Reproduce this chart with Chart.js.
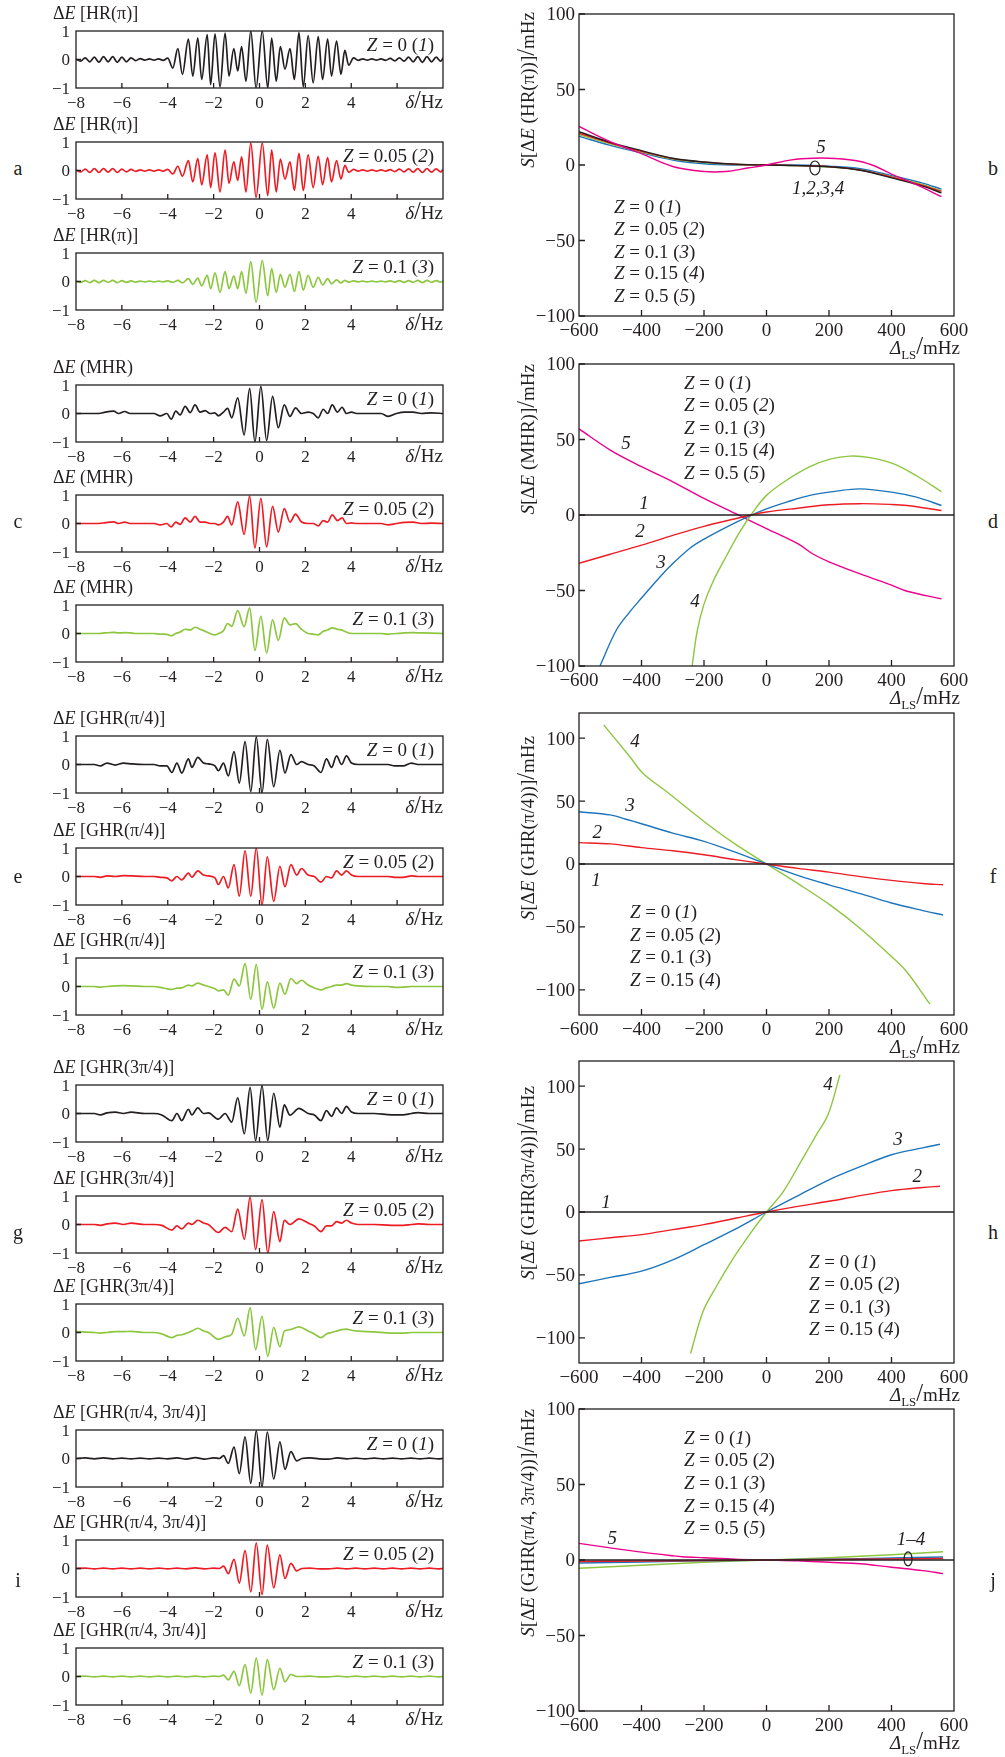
<!DOCTYPE html>
<html>
<head>
<meta charset="utf-8">
<script src="https://cdn.jsdelivr.net/npm/chart.js@4.4.1/dist/chart.umd.min.js"></script>
<style>
  body { margin: 0; background: #fff; width: 1005px; height: 1757px; position: relative; overflow: hidden; }
  canvas { position: absolute; }
  .tag { position: absolute; font: 20px "Liberation Serif", serif; color: #231f20; transform: translate(-50%, -50%); }
</style>
</head>
<body>
<script>
/* ---------- left column: dE(delta), three Z values per group ---------- */
const hrDelta = [-8,-7.8,-7.6,-7.4,-7.2,-7,-6.8,-6.6,-6.4,-6.2,-6,-5.8,-5.6,-5.4,-5.2,-5,-4.8,-4.6,-4.4,-4.2,-4,-3.78,
  -3.56,-3.36,-3.1,-2.91,-2.69,-2.52,-2.28,-2.13,-1.94,-1.72,-1.5,-1.33,-1.12,-0.95,-0.78,-0.59,-0.38,-0.15,0.12,0.36,
  0.53,0.73,0.91,1.11,1.33,1.52,1.72,1.91,2.12,2.34,2.56,2.75,2.97,3.14,3.36,3.55,3.72,3.89,
  4.1,4.3,4.5,4.7,4.9,5.1,5.3,5.5,5.7,5.9,6.1,6.3,6.5,6.7,6.9,7.1,7.3,7.5,7.7,7.9,8];
const hrZ0 = [0.02,-0.06,0.06,-0.08,0.08,-0.1,0.1,-0.08,0.1,-0.1,0.08,-0.08,0.06,-0.04,0.03,-0.02,0.02,-0.02,0.02,-0.03,0.05,-0.3,
  0.38,-0.52,0.72,-0.58,0.75,-0.7,0.87,-0.88,0.9,-0.96,0.93,-0.58,0.38,-0.4,0.45,-0.76,1,-1,1,-1,
  0.75,-0.76,0.45,-0.34,0.38,-0.7,0.95,-0.96,0.84,-0.82,0.8,-0.7,0.72,-0.58,0.65,-0.52,0.32,-0.2,
  0.06,-0.03,0.02,-0.02,0.02,-0.02,0.02,-0.03,0.04,-0.05,0.06,-0.06,0.08,-0.08,0.1,-0.1,0.1,-0.08,0.08,-0.06,0.05];
const hrZ005 = [0.02,-0.05,0.05,-0.07,0.07,-0.07,0.07,-0.06,0.07,-0.07,0.05,-0.05,0.04,-0.03,0.02,-0.02,0.02,-0.02,0.02,-0.02,0.04,-0.12,
  0.15,-0.2,0.35,-0.4,0.42,-0.5,0.55,-0.6,0.62,-0.75,0.72,-0.45,0.3,-0.35,0.48,-0.75,0.97,-0.94,0.97,-0.88,
  0.72,-0.75,0.4,-0.3,0.3,-0.7,0.6,-0.7,0.55,-0.6,0.5,-0.5,0.45,-0.4,0.35,-0.3,0.18,-0.06,
  0.04,-0.02,0.02,-0.02,0.02,-0.02,0.02,-0.02,0.03,-0.04,0.05,-0.05,0.06,-0.06,0.07,-0.07,0.07,-0.06,0.06,-0.05,0.04];
const hrZ01 = [0.01,-0.03,0.03,-0.04,0.04,-0.04,0.04,-0.03,0.04,-0.04,0.03,-0.03,0.02,-0.02,0.01,-0.01,0.01,-0.01,0.01,-0.01,0.02,-0.03,
  0.04,-0.05,0.1,-0.1,0.12,-0.15,0.22,-0.25,0.3,-0.38,0.35,-0.25,0.2,-0.25,0.35,-0.42,0.7,-0.73,0.73,-0.5,
  0.45,-0.38,0.25,-0.2,0.25,-0.35,0.35,-0.3,0.22,-0.2,0.15,-0.12,0.1,-0.08,0.06,-0.05,0.04,-0.02,
  0.02,-0.01,0.01,-0.01,0.01,-0.01,0.01,-0.01,0.02,-0.02,0.03,-0.03,0.03,-0.03,0.04,-0.04,0.04,-0.03,0.03,-0.02,0.02];

const mhrDelta = [-8,-7,-6.72,-6.36,-6.14,-5.88,-5.64,-5.42,-4.6,-4.33,-4.04,-3.85,-3.65,-3.46,-3.24,-3.02,
  -2.81,-2.59,-2.37,-2.15,-1.95,-1.79,-1.57,-1.39,-1.21,-0.95,-0.67,-0.43,-0.2,0.06,0.31,0.57,
  0.82,1.08,1.33,1.57,1.83,2.12,2.34,2.56,2.78,2.97,3.17,3.4,3.6,3.79,4.01,4.23,4.6,5.3,5.61,5.97,6.33,6.69,7.06,7.5,8];
const mhrZ0 = [0,0,0.05,0.08,0,0.07,0,0, 0,-0.08,0,-0.2,0.08,-0.05,0.25,0.03,
  0.3,0.05,0.1,0,0.02,-0.08,0.05,0.18, -0.15,0.55,-0.75,0.88,-1,0.95,-0.95,0.6,
  -0.5,0.3,-0.1,0.2,0,0.05,0,-0.15, 0.15,0,0.3,0.05,0.22,0,0.05,0, 0,0,-0.1,0,0.05,0.05,0,0.02,0];
const mhrZ005 = [0,0,0.03,0.06,0,0.05,0,0, 0,-0.05,0,-0.12,0.05,-0.03,0.2,0.05,
  0.25,0.05,0.05,0,0,-0.05,0.05,0.25, -0.05,0.76,-0.38,0.96,-0.86,0.88,-0.82,0.6,
  -0.3,0.52,0.05,0.33,0.05,0,0,-0.08, 0.1,0.05,0.3,0.1,0.2,0,0.02,0, 0,0,-0.05,0,0.04,0.05,0,0.01,0];
const mhrZ01 = [0,0,0.02,0.04,0.02,0.03,0.02,0, 0,-0.02,-0.03,-0.08,0,0.05,0.15,0.12,
  0.22,0.15,0.08,0,-0.05,0,0.1,0.35, 0.25,0.8,0.24,0.9,-0.6,0.6,-0.68,0.48,
  -0.24,0.55,0.3,0.35,0.15,0,-0.02,-0.05, 0.08,0.12,0.2,0.15,0.12,0.05,0,0, 0,0,-0.02,0,0.02,0.03,0.02,0.01,0];

const q1Delta = [-8,-7.2,-6.94,-6.65,-6.29,-5.93,-5.56,-5,-4.6,-4.33,-4.04,-3.82,-3.6,-3.39,-3.1,-2.95,
  -2.69,-2.44,-2.23,-1.94,-1.79,-1.57,-1.36,-1.11,-0.88,-0.63,-0.38,-0.14,0.11,0.34,0.62,0.89,
  1.11,1.37,1.62,1.83,2.12,2.39,2.68,2.92,3.14,3.36,3.58,3.79,4.01,4.3,5,5.6,5.9,6.26,6.62,6.91,7.4,8];
const q1Z0 = [0,0,-0.05,0.05,-0.02,0.05,0.02,0, 0,-0.05,-0.05,-0.28,0.05,-0.3,0.2,-0.1,
  0.25,0.05,0.02,-0.05,-0.22,0.05,-0.4,0.45, -0.65,0.8,-0.95,0.97,-1,0.88,-0.78,0.5,
  -0.3,0.35,0,0.1,0,-0.05,-0.28,0.2, -0.1,0.3,0,0.3,0.05,0,0,0, -0.05,-0.05,0.05,0,0,0];
const q1Z005 = [0,0,-0.03,0.02,0,0.03,0.02,0, 0,-0.03,-0.05,-0.15,0,-0.12,0.12,-0.02,
  0.2,0.05,0.02,-0.05,-0.28,0,-0.4,0.42, -0.69,0.9,-0.69,1,-1,0.69,-0.87,0.36,
  -0.36,0.42,0.05,0.28,0.05,0,-0.2,0, -0.05,0.2,0.05,0.2,0.05,0,0,0, -0.03,-0.03,0.02,0,0,0];
const q1Z01 = [0,0,-0.02,0,0.02,0.03,0.02,0, 0,-0.03,-0.08,-0.1,-0.06,-0.05,0.05,0.02,
  0.12,0.05,0,-0.08,-0.15,-0.12,-0.3,0.26, 0.02,0.8,-0.45,0.77,-0.8,0.16,-0.76,0.12,
  -0.27,0.28,0.1,0.22,0.05,-0.05,-0.12,-0.05, 0,0.05,0.05,0.1,0.05,0.02,0,0, -0.03,-0.02,0,0,0,0];

const q3Delta = [-8,-7.2,-6.94,-6.65,-6.29,-5.93,-5.6,-5,-4.6,-4.26,-3.82,-3.6,-3.39,-3.1,-2.95,-2.69,
  -2.44,-2.23,-1.79,-1.5,-1.21,-0.95,-0.66,-0.41,-0.17,0.11,0.36,0.62,0.89,1.08,1.33,1.72,
  2.12,2.39,2.68,2.92,3.14,3.36,3.58,3.79,4.01,4.3,5,5.75,6.26,6.62,6.91,7.4,8];
const q3Z0 = [0,0,-0.05,0.02,0.05,0,0.05,0, 0,-0.05,-0.25,0,-0.25,0.15,-0.05,0.2,
  0,0.02,-0.2,0,-0.3,0.55,-0.71,0.92, -0.95,0.98,-0.95,0.71,-0.48,0.3,-0.06,0.18,
  0,-0.05,-0.25,0.1,-0.1,0.2,0,0.25, 0.05,0,0,-0.05,-0.05,0,0.03,0,0];
const q3Z005 = [0,0,-0.03,0.02,0.05,0,0.05,0, 0,-0.03,-0.2,-0.05,-0.15,0.05,0,0.15,
  0.05,0,-0.28,-0.1,-0.25,0.54,-0.52,0.96, -0.88,0.87,-1,0.45,-0.6,0.15,0,0.2,
  0.05,-0.05,-0.25,-0.05,-0.05,0.1,0.05,0.15, 0.05,0,0,-0.03,-0.03,0,0.02,0,0];
const q3Z01 = [0.03,0,-0.02,0,0.03,0.03,0.04,0, 0,-0.05,-0.18,-0.1,-0.08,0,0.05,0.15,
  0.05,0,-0.24,-0.15,-0.06,0.5,-0.12,0.87, -0.6,0.57,-0.84,0.18,-0.5,0.05,0.1,0.2,
  0.05,-0.05,-0.18,-0.05,0,0.05,0.1,0.12, 0.08,0.05,0.02,-0.02,-0.02,0,0,0,0];

const q13Delta = [-8,-7.6,-7.2,-6.8,-6.4,-6,-5.6,-5.2,-4.8,-4.4,-4,-3.6,-3.2,-2.8,-2.4,-2,
  -1.75,-1.57,-1.36,-1.11,-0.88,-0.63,-0.38,-0.14,0.11,0.34,0.62,0.89,1.11,1.37,1.62,1.85,
  2.2,2.6,3,3.4,3.8,4.2,4.6,5,5.4,5.8,6.2,6.6,7,7.4,7.8,8];
const q13Z0 = [0,0.02,-0.01,0.02,-0.01,0.01,-0.01,0.01,-0.01,0.01,-0.01,0.02,-0.02,0.03,-0.02,0.02,
  0,0.1,-0.17,0.4,-0.53,0.76,-0.87,0.98,-1,0.93,-0.72,0.58,-0.38,0.24,-0.08,0,
  0.02,-0.01,-0.02,0.02,-0.01,0.01,-0.01,0.01,-0.01,0.01,-0.01,0.01,-0.01,0.01,-0.01,0];
const q13Z005 = [0,0.01,-0.01,0.01,-0.01,0.01,-0.01,0.01,-0.01,0.01,-0.01,0.01,-0.01,0.02,-0.01,0.01,
  0,0.08,-0.18,0.32,-0.51,0.63,-0.82,0.9,-0.92,0.82,-0.68,0.48,-0.35,0.18,-0.08,0,
  0.01,-0.01,-0.01,0.01,-0.01,0.01,-0.01,0.01,-0.01,0.01,-0.01,0.01,-0.01,0.01,-0.01,0];
const q13Z01 = [0,0.01,-0.01,0.01,-0.01,0.01,-0.01,0.01,-0.01,0.01,-0.01,0.01,-0.01,0.01,-0.01,0.01,
  0,0.05,-0.12,0.18,-0.32,0.42,-0.58,0.65,-0.65,0.59,-0.46,0.29,-0.18,0.07,0,0,
  0.01,-0.01,-0.01,0.01,-0.01,0.01,-0.01,0.01,-0.01,0.01,-0.01,0.01,-0.01,0.01,-0.01,0];

/* ---------- right column: S[dE] vs Delta_LS ---------- */
const lsFull = [-600, 600];
const zeroLine = [0, 0];

const bLS = [-600,-500,-400,-300,-200,-100,0,100,200,300,400,500,560];
const bZ0 = [22,15,9.5,4.5,2,0.6,0,-0.4,-1.2,-3.5,-8.5,-14,-18.5];
const bZ005 = [21,14.5,9,4.2,1.9,0.5,0,-0.4,-1.1,-3.3,-8,-13.5,-17.5];
const bZ01 = [19,13,8,3.3,0.8,0,0,0,-0.8,-2.5,-7,-12,-16];
const bZ015 = [20,14,8.6,4,1.7,0.5,0,-0.5,-1.3,-3.3,-7.8,-13,-17];
const bLS5 = [-600,-500,-400,-300,-200,-130,-60,0,80,150,220,300,350,400,480,560];
const bZ05 = [25.5,15.5,7.5,-1,-4.3,-4.3,-2,0,3.4,4.5,4.3,2.3,-1,-6,-13,-21];

const dLS2 = [-600,-500,-400,-300,-200,-100,-50,0,100,200,300,400,450,560];
const dZ005 = [-32,-26,-20,-13.5,-7.5,-2.5,0,2,4.5,6.8,7.5,7,6.3,3];
const dLS3 = [-533,-480,-437,-400,-341,-299,-245,-200,-128,-64,0,64,139,224,299,405,480,560];
const dZ01 = [-100,-76,-64,-55,-41,-32,-22,-16,-8,-1.5,4,8.5,13,15.8,17.3,15,11.8,6.3];
const dLS4 = [-238,-222,-200,-171,-128,-85,-43,0,64,139,203,267,331,405,480,560];
const dZ015 = [-100,-77,-59,-44,-27,-11,2,13,23,32,37,39,38,34,26,15.5];
const dLS5 = [-600,-500,-400,-300,-200,-100,0,100,150,200,300,400,450,560];
const dZ05 = [57,43,32,22,11,1,-9,-19,-26,-31,-39,-46.5,-50.5,-55.5];

const fLS2 = [-600,-500,-400,-300,-200,-100,0,100,200,300,400,500,565];
const fZ005 = [17,16,13,10.5,7.3,3.5,0,-3.5,-6.5,-10,-13,-15.5,-16.5];
const fLS3 = [-600,-500,-450,-400,-300,-200,-100,0,100,200,300,400,500,565];
const fZ01 = [41.5,39,35.6,32,24.5,18,9.4,0,-9,-16.6,-23.5,-31,-37,-40.5];
const fLS4 = [-521,-438,-395,-320,-200,-107,0,107,203,299,400,448,523];
const fZ015 = [110.6,85.4,72,57.6,33.8,17,0,-16.6,-32.5,-51,-73.5,-85.4,-111.4];

const hLS23 = [-600,-500,-400,-300,-200,-100,0,100,200,300,400,500,555];
const hZ005 = [-23,-20.5,-18,-14,-10,-5,0,4.5,8.5,13,17,19.5,20.5];
const hZ01 = [-57,-52,-47,-38,-26,-13.7,0,12.9,25.6,36,45.5,51,53.8];
const hLS4 = [-243,-203,-160,-107,-43,0,53,117,160,197,235];
const hZ015 = [-112.5,-79,-59,-37,-14,0,16,43,61.5,77.4,109];

const jLS = [-600,-400,-200,0,200,400,565];
const jZ005 = [-1,-0.7,-0.3,0,0.3,0.7,1];
const jZ01 = [-2,-1.3,-0.6,0,0.6,1.3,2];
const jZ015 = [-5.5,-3.5,-1.5,0,1.5,3.5,5.5];
const jLS5 = [-600,-500,-400,-300,-270,-200,-100,0,100,200,300,400,500,565];
const jZ05 = [11,8,5.2,2.8,2.2,1.5,0.5,0,-0.5,-1.5,-2.5,-4.8,-7,-9];

/* ticks */
const deltaTicks = [-6,-4,-2,0,2,4,6];
const deltaLabels = [-8,-6,-4,-2,0,2,4];
const dETicks = [0];
const dELabels = [-1,0,1];
const lsTicks = [-400,-200,0,200,400];
const lsLabels = [-600,-400,-200,0,200,400,600];
const sTicks = [-100,-50,0,50,100];

const INK = '#231f20';
const COL = { k: '#231f20', r: '#ed1c24', g: '#8dc63f', b: '#1c75bc', m: '#ec008c' };
const FONT = '"Liberation Serif", "Times New Roman", serif';

function pts(xs, ys) { return xs.map((x, i) => ({ x: x, y: ys[i] })); }
function num(v) { return v < 0 ? '\u2212' + Math.abs(v) : String(v); }

// '*' toggles italic, '~' toggles subscript, '^' toggles big glyph
function runs(str) {
  const out = []; let it = false, sub = false, big = false, cur = '';
  const push = () => { if (cur) out.push({ t: cur, it, sub, big }); cur = ''; };
  for (const ch of str) {
    if (ch === '*') { push(); it = !it; }
    else if (ch === '~') { push(); sub = !sub; }
    else if (ch === '^') { push(); big = !big; }
    else cur += ch;
  }
  push();
  return out;
}
function fontFor(r, size) {
  const s = r.sub ? size * 0.68 : r.big ? size * 1.3 : size;
  return (r.it ? 'italic ' : '') + s.toFixed(1) + 'px ' + FONT;
}
function drawRich(ctx, str, x, y, size, align) {
  const rs = runs(str);
  let w = 0;
  rs.forEach(r => { ctx.font = fontFor(r, size); r.w = ctx.measureText(r.t).width; w += r.w; });
  let cx = align === 'right' ? x - w : align === 'center' ? x - w / 2 : x;
  ctx.textAlign = 'left';
  ctx.textBaseline = 'alphabetic';
  rs.forEach(r => {
    ctx.font = fontFor(r, size);
    ctx.fillText(r.t, cx, y + size * 0.34 + (r.sub ? size * 0.22 : 0));
    cx += r.w;
  });
}

const decor = {
  id: 'decor',
  afterDatasetsDraw(chart) {
    const d = chart.canvas.deco;
    const ctx = chart.ctx, a = chart.chartArea;
    const sx = chart.scales.x, sy = chart.scales.y;
    ctx.save();
    ctx.strokeStyle = INK;
    ctx.fillStyle = INK;
    ctx.lineWidth = 1.3;
    ctx.strokeRect(a.left, a.top, a.right - a.left, a.bottom - a.top);
    ctx.beginPath();
    d.xTicks.forEach(v => { const p = sx.getPixelForValue(v); ctx.moveTo(p, a.bottom); ctx.lineTo(p, a.bottom - d.tick); });
    d.yTicks.forEach(v => { const p = sy.getPixelForValue(v); ctx.moveTo(a.left, p); ctx.lineTo(a.left + d.tick, p); });
    ctx.stroke();
    d.xLabels.forEach(v => drawRich(ctx, num(v), sx.getPixelForValue(v), a.bottom + 14, d.size, 'center'));
    d.yLabels.forEach(v => drawRich(ctx, num(v), a.left - d.gap, sy.getPixelForValue(v), d.size, 'right'));
    (d.ellipses || []).forEach(e => {
      ctx.beginPath();
      ctx.lineWidth = 1.2;
      ctx.ellipse(sx.getPixelForValue(e.x), sy.getPixelForValue(e.y), e.rx, e.ry, 0, 0, Math.PI * 2);
      ctx.stroke();
    });
    d.texts.forEach(t => {
      const px = t.data ? sx.getPixelForValue(t.x) : a.left + t.x;
      const py = t.data ? sy.getPixelForValue(t.y) : a.top + t.y;
      if (t.rot) {
        ctx.save(); ctx.translate(px, py); ctx.rotate(-Math.PI / 2);
        drawRich(ctx, t.s, 0, 0, t.size, t.align);
        ctx.restore();
      } else {
        drawRich(ctx, t.s, px, py, t.size, t.align);
      }
    });
    ctx.restore();
  }
};

function place(box, pad) {
  const c = document.createElement('canvas');
  const w = box.w + pad.l + pad.r, h = box.h + pad.t + pad.b;
  c.width = w; c.height = h;
  c.style.left = (box.x - pad.l) + 'px';
  c.style.top = (box.y - pad.t) + 'px';
  c.style.width = w + 'px';
  c.style.height = h + 'px';
  document.body.appendChild(c);
  return c;
}

function makeChart(canvas, pad, datasets, xr, yr) {
  return new Chart(canvas, {
    type: 'line',
    data: { datasets: datasets },
    options: {
      responsive: false,
      animation: false,
      devicePixelRatio: 1,
      layout: { padding: { left: pad.l, top: pad.t, right: pad.r, bottom: pad.b } },
      scales: {
        x: { type: 'linear', display: false, min: xr[0], max: xr[1] },
        y: { type: 'linear', display: false, min: yr[0], max: yr[1] }
      },
      plugins: { legend: { display: false }, tooltip: { enabled: false } }
    },
    plugins: [decor]
  });
}

/* ---------- left panels ---------- */
const LPAD = { l: 34, t: 30, r: 4, b: 24 };
const zNames = ['*Z* = 0 (*1*)', '*Z* = 0.05 (*2*)', '*Z* = 0.1 (*3*)'];
const zColors = [COL.k, COL.r, COL.g];

function waveGroup(tops, title, xs, series) {
  tops.forEach((top, i) => {
    const box = { x: 76, y: top, w: 367, h: 57 };
    const cv = place(box, LPAD);
    cv.deco = {
      tick: 5, size: 17, gap: 6,
      xTicks: deltaTicks, yTicks: dETicks, xLabels: deltaLabels, yLabels: dELabels,
      texts: [
        { s: title, x: -23, y: -18, size: 18, align: 'left' },
        { s: zNames[i], x: box.w - 9, y: 14, size: 19, align: 'right' },
        { s: '*δ*^/^Hz', x: box.w, y: box.h + 14, size: 19, align: 'right' }
      ]
    };
    makeChart(cv, LPAD, [{
      data: pts(xs, series[i]), borderColor: zColors[i], borderWidth: 1.7,
      pointRadius: 0, cubicInterpolationMode: 'monotone', fill: false
    }], [-8, 8], [-1, 1]);
  });
}

waveGroup([31, 142, 253], 'Δ*E* [HR(π)]', hrDelta, [hrZ0, hrZ005, hrZ01]);
waveGroup([385, 495, 605], 'Δ*E* (MHR)', mhrDelta, [mhrZ0, mhrZ005, mhrZ01]);
waveGroup([736, 848, 958], 'Δ*E* [GHR(π/4)]', q1Delta, [q1Z0, q1Z005, q1Z01]);
waveGroup([1085, 1196, 1304], 'Δ*E* [GHR(3π/4)]', q3Delta, [q3Z0, q3Z005, q3Z01]);
waveGroup([1430, 1540, 1648], 'Δ*E* [GHR(π/4, 3π/4)]', q13Delta, [q13Z0, q13Z005, q13Z01]);

/* ---------- right panels ---------- */
const RPAD = { l: 80, t: 10, r: 14, b: 46 };
const legend5 = ['*Z* = 0 (*1*)', '*Z* = 0.05 (*2*)', '*Z* = 0.1 (*3*)', '*Z* = 0.15 (*4*)', '*Z* = 0.5 (*5*)'];

function line(xs, ys, color, w) {
  return { data: pts(xs, ys), borderColor: color, borderWidth: w || 1.4, pointRadius: 0, tension: 0.35, fill: false };
}

function shiftPanel(top, yr, title, titleTop, datasets, legend, legX, legY, labels, ellipses) {
  const box = { x: 579, y: top, w: 375, h: 302 };
  const cv = place(box, RPAD);
  const texts = [
    { s: title, x: -51, y: titleTop, size: 19, align: 'right', rot: true },
    { s: '*Δ*~LS~^/^mHz', x: box.w + 6, y: box.h + 32, size: 19, align: 'right' }
  ];
  legend.forEach((s, i) => texts.push({ s: s, x: legX, y: legY[i], size: 19, align: 'left' }));
  labels.forEach(l => texts.push({ s: l[0], x: l[1], y: l[2], data: true, size: 19, align: 'center' }));
  cv.deco = {
    tick: 6, size: 19, gap: 4,
    xTicks: lsTicks, yTicks: sTicks, xLabels: lsLabels, yLabels: sTicks,
    texts: texts, ellipses: ellipses
  };
  makeChart(cv, RPAD, datasets, [-600, 600], yr);
}

shiftPanel(14, [-100, 100], '*S*[Δ*E* (HR(π))]^/^mHz', -2, [
  line(bLS5, bZ05, COL.m),
  line(bLS, bZ0, COL.k),
  line(bLS, bZ005, COL.r),
  line(bLS, bZ015, COL.g),
  line(bLS, bZ01, COL.b)
], legend5, 35, [193, 215, 238, 259, 282],
  [['*5*', 174, 12], ['*1,2,3,4*', 165, -14.6]], [{ x: 155, y: -2, rx: 5, ry: 7 }]);

shiftPanel(364, [-100, 100], '*S*[Δ*E* (MHR)]^/^mHz', 0, [
  line(lsFull, zeroLine, COL.k, 1.6),
  line(dLS2, dZ005, COL.r),
  line(dLS3, dZ01, COL.b),
  line(dLS4, dZ015, COL.g),
  line(dLS5, dZ05, COL.m)
], legend5, 105, [19, 41, 64, 86, 109],
  [['*5*', -450, 48], ['*1*', -392, 8.3], ['*2*', -405, -10.2], ['*3*', -338, -30.7], ['*4*', -229, -56.4]], []);

shiftPanel(713, [-120, 120], '*S*[Δ*E* (GHR(π/4))]^/^mHz', 23, [
  line(lsFull, zeroLine, COL.k, 1.6),
  line(fLS2, fZ005, COL.r),
  line(fLS3, fZ01, COL.b),
  line(fLS4, fZ015, COL.g)
], legend5.slice(0, 4), 51, [199, 222, 244, 267],
  [['*4*', -421, 98.5], ['*3*', -437, 46.9], ['*2*', -542, 26], ['*1*', -546, -12]], []);

shiftPanel(1061, [-120, 120], '*S*[Δ*E* (GHR(3π/4))]^/^mHz', 25, [
  line(lsFull, zeroLine, COL.k, 1.6),
  line(hLS23, hZ005, COL.r),
  line(hLS23, hZ01, COL.b),
  line(hLS4, hZ015, COL.g)
], legend5.slice(0, 4), 230, [201, 223, 246, 268],
  [['*4*', 197, 101.7], ['*3*', 421, 58], ['*2*', 482, 28.6], ['*1*', -514, 8.7]], []);

shiftPanel(1409, [-100, 100], '*S*[Δ*E* (GHR(π/4, 3π/4))]^/^mHz', 0, [
  line(lsFull, zeroLine, COL.k, 1.6),
  line(jLS, jZ005, COL.r),
  line(jLS, jZ01, COL.b),
  line(jLS, jZ015, COL.g),
  line(jLS5, jZ05, COL.m)
], legend5, 105, [29, 51, 74, 97, 119],
  [['*5*', -494, 14.6], ['*1–4*', 462, 14]], [{ x: 453, y: 0.7, rx: 4, ry: 7 }]);

/* ---------- panel letters ---------- */
[['a', 18, 168], ['b', 993, 168], ['c', 18, 521], ['d', 993, 521], ['e', 18, 876],
 ['f', 993, 876], ['g', 18, 1232], ['h', 993, 1232], ['i', 18, 1580], ['j', 993, 1580]].forEach(p => {
  const el = document.createElement('div');
  el.className = 'tag';
  el.textContent = p[0];
  el.style.left = p[1] + 'px';
  el.style.top = p[2] + 'px';
  document.body.appendChild(el);
});
</script>
</body>
</html>
